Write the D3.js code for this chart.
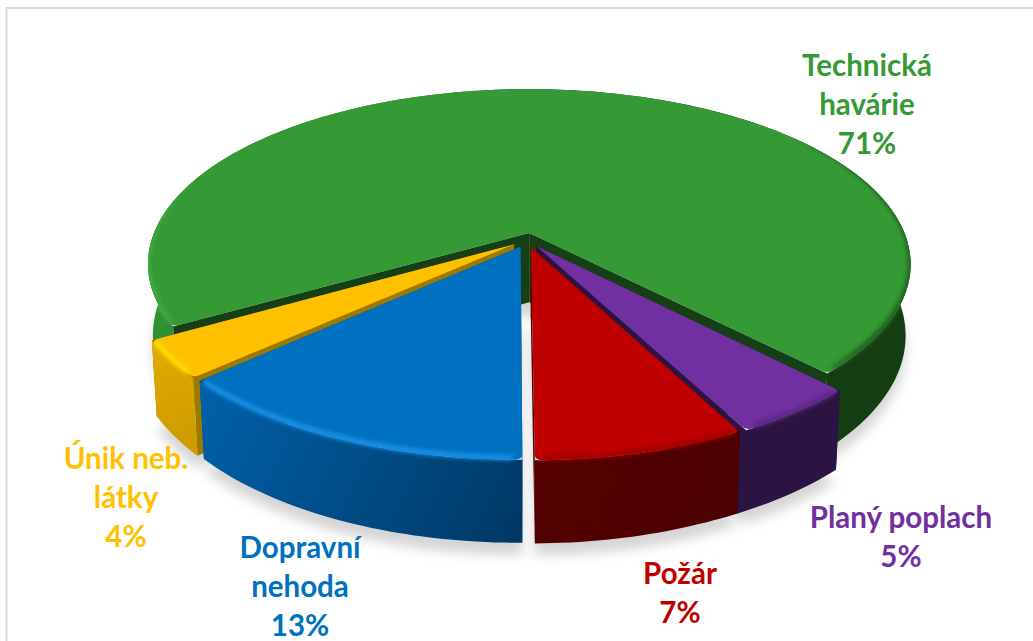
<!DOCTYPE html>
<html><head><meta charset="utf-8">
<script src="https://cdn.jsdelivr.net/npm/d3@7"></script>
<style>html,body{margin:0;padding:0;background:#fff;overflow:hidden}</style>
</head><body><svg id="c" width="1033" height="641"></svg>
<script>
// --- data ---
const categories = ["Technická havárie", "Planý poplach", "Požár", "Dopravní nehoda", "Únik neb. látky"];
const shares = [71.25, 4.55, 7.48, 13.32, 3.4];   // slice sizes as measured on the picture
const percentLabels = [71, 5, 7, 13, 4];          // percentages as printed
const labelLines = [["Technická", "havárie"], ["Planý poplach"], ["Požár"], ["Dopravní", "nehoda"], ["Únik neb.", "látky"]];
// --- styling, by slice ---
const topColors  = ["#359935", "#7030a0", "#bf0000", "#0070c0", "#ffc000"];
const cutColors  = ["#153f14", "#2b1442", "#4a0000", "#00457a", "#9c7a00"];
const wallFrom   = ["#2f9034", "#2b1442", "#540000", "#0062aa", "#e2ab00"];
const wallTo     = ["#143e12", "#2b1442", "#4c0000", "#003864", "#cc9a00"];
const rimColors  = ["#3cb043", "#56287f", "#a00000", "#1e94ea", "#ffdf00"];
const textColors = ["#359935", "#7030a0", "#c00000", "#0070c0", "#ffc000"];
const labelX = [867, 901, 680, 300, 126];
const labelY = [76, 528, 584, 558, 469];

const svg = d3.select("#c");
const defs = svg.append("defs");
const W = 1033, H = 641, lineH = 39;
const cx = 527, cy = 240;
const persp = 0.18, explode = 0.042;
const xS = d3.scaleLinear().domain([-1, 1]).range([cx - 378, cx + 378]);
const yS = d3.scaleLinear().domain([-1, 1]).range([cy - 172, cy + 172]);

const pie = d3.pie().sort(null).startAngle(-120.2 * Math.PI / 180).endAngle(239.8 * Math.PI / 180);
const arcs = pie(shares);

function project(u, v, z) {
  const w = 1 - persp * v;
  const x = xS(u / w), y = yS(v / w);
  return [cx + (x - cx) * (1 - 0.013 * z), y + z * (72 + 0.06 * (y - 275))];
}
function pt(d, r, a, z) {
  const m = (d.startAngle + d.endAngle) / 2;
  const u = explode * Math.sin(m) + r * Math.sin(a);
  const v = -explode * Math.cos(m) - r * Math.cos(a);
  return project(u, v, z);
}
function rimPts(d, a0, a1, z) {
  const n = Math.max(4, Math.ceil((a1 - a0) / 0.02));
  return d3.range(n + 1).map(i => pt(d, 1, a0 + (a1 - a0) * i / n, z));
}
const line = d3.line();

function topPath(d) {
  const p = d3.path(), c = 0.035, R = 0.98;
  const P = (r, a) => pt(d, r, a, 0);
  p.moveTo(...P(0, d.startAngle));
  p.lineTo(...P(R, d.startAngle));
  p.quadraticCurveTo(...P(1, d.startAngle), ...P(1, d.startAngle + c / 2));
  rimPts(d, d.startAngle + c / 2, d.endAngle - c / 2, 0).forEach(q => p.lineTo(...q));
  p.quadraticCurveTo(...P(1, d.endAngle), ...P(R, d.endAngle));
  p.closePath();
  return p.toString();
}
function wallPath(d, a0, a1) {
  return line(rimPts(d, a0, a1, 0).concat(rimPts(d, a0, a1, 1).reverse())) + "Z";
}
function cutPath(d, a) {
  return line([pt(d, 0, a, 0), pt(d, 1, a, 0), pt(d, 1, a, 1), pt(d, 0, a, 1)]) + "Z";
}

// filters
const f1 = defs.append("filter").attr("id", "shadow").attr("x", "-10%").attr("y", "-10%").attr("width", "120%").attr("height", "130%");
f1.append("feGaussianBlur").attr("stdDeviation", 6);
const f2 = defs.append("filter").attr("id", "soft").attr("filterUnits", "userSpaceOnUse")
  .attr("x", 0).attr("y", 0).attr("width", W).attr("height", H);
f2.append("feGaussianBlur").attr("stdDeviation", 2);

// gradients and clips
arcs.forEach((d, i) => {
  const g = defs.append("linearGradient").attr("id", "wall" + i).attr("gradientUnits", "userSpaceOnUse");
  if (i === 0) {
    g.attr("x1", 150).attr("y1", 0).attr("x2", 835).attr("y2", 0);
    g.append("stop").attr("offset", 0.05).attr("stop-color", wallFrom[i]);
    g.append("stop").attr("offset", 0.5).attr("stop-color", wallFrom[i]);
    g.append("stop").attr("offset", 0.51).attr("stop-color", wallTo[i]);
  } else {
    const a = pt(d, 1, d.endAngle, 0), b = pt(d, 1, d.startAngle, 1);
    g.attr("x1", a[0]).attr("y1", a[1]).attr("x2", b[0]).attr("y2", b[1]);
    g.append("stop").attr("offset", 0).attr("stop-color", wallFrom[i]);
    g.append("stop").attr("offset", 1).attr("stop-color", wallTo[i]);
  }
  const cp = defs.append("clipPath").attr("id", "clip" + i);
  cp.append("path").attr("d", topPath(d));
  cp.append("path").attr("d", wallPath(d, d.startAngle, d.endAngle));
});
const gr = defs.append("linearGradient").attr("id", "rim0").attr("gradientUnits", "userSpaceOnUse")
  .attr("x1", 150).attr("y1", 0).attr("x2", 910).attr("y2", 0);
[[0, "#3cb043", 1], [0.09, "#3cb043", 0], [0.85, "#1d5a1c", 0], [0.93, "#1d5a1c", 1], [1, "#1d5a1c", 1]].forEach(s =>
  gr.append("stop").attr("offset", s[0]).attr("stop-color", s[1]).attr("stop-opacity", s[2]));

// frame
svg.append("rect").attr("x", 6.5).attr("y", 8).attr("width", W + 20).attr("height", H + 20)
  .attr("fill", "#fff").attr("stroke", "#d9d9d9").attr("stroke-width", 2);

// cast shadow
const shadowG = svg.append("g").attr("filter", "url(#shadow)").attr("fill", "#d4d4d4");
arcs.forEach(d => {
  shadowG.append("path").attr("transform", "translate(0,12)")
    .attr("d", line(rimPts(d, d.startAngle, d.endAngle, 1).concat([pt(d, 0, 0, 1)])) + "Z");
});

// back to front; each wall runs slightly past its end so it tucks behind the next slice
const drawOrder = [0, 4, 1, 2, 3];
drawOrder.forEach(i => {
  const d = arcs[i];
  const g = svg.append("g").attr("class", "slice").attr("data-category", categories[i]);
  const tuck = i === 1 ? 0.07 : 0;
  g.append("path").attr("d", cutPath(d, d.startAngle)).attr("fill", cutColors[i]);
  g.append("path").attr("d", cutPath(d, d.endAngle)).attr("fill", cutColors[i]);
  g.append("path").attr("d", wallPath(d, d.startAngle, d.endAngle + tuck)).attr("fill", `url(#wall${i})`);
  g.append("path").attr("d", topPath(d)).attr("fill", topColors[i]);
  g.append("g").attr("clip-path", `url(#clip${i})`)
    .append("path").attr("d", line(rimPts(d, d.startAngle + 0.02, d.endAngle - 0.02, 0).map(q => [q[0], q[1] - 2])))
    .attr("fill", "none").attr("stroke", i === 0 ? "url(#rim0)" : rimColors[i])
    .attr("stroke-width", 5).attr("filter", "url(#soft)");
});

// labels
arcs.forEach((d, i) => {
  const t = svg.append("text").attr("text-anchor", "middle")
    .attr("font-family", "Lato, Carlito, sans-serif").attr("font-weight", 700).attr("font-size", 29.5)
    .attr("fill", textColors[i]);
  labelLines[i].concat([percentLabels[i] + "%"]).forEach((s, k) => {
    t.append("tspan").attr("x", labelX[i]).attr("y", labelY[i] + k * lineH).text(s);
  });
});
</script></body></html>
